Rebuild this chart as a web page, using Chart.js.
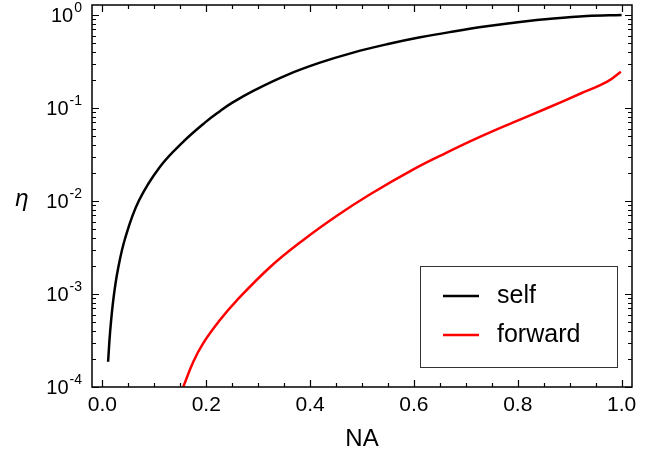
<!DOCTYPE html>
<html>
<head>
<meta charset="utf-8">
<script src="https://cdn.jsdelivr.net/npm/chart.js@4"></script>
<style>
  html, body { margin: 0; padding: 0; background: #fff; }
  #wrap { width: 665px; height: 456px; }
</style>
</head>
<body>
<div id="wrap"><canvas id="chart" width="665" height="456"></canvas></div>
<script>
// values
const selfNA  = [0.011, 0.015, 0.0216, 0.03, 0.044, 0.07, 0.111, 0.156, 0.198, 0.2264, 0.2495, 0.2906, 0.355, 0.419, 0.483, 0.548, 0.612, 0.676, 0.740, 0.804, 0.869, 0.933, 1.0];
const selfEta = [1.87e-4, 4.0e-4, 9.2e-4, 1.85e-3, 4.0e-3, 0.01, 0.0234, 0.0435, 0.070, 0.0923, 0.1135, 0.153, 0.226, 0.307, 0.394, 0.484, 0.575, 0.664, 0.755, 0.841, 0.916, 0.973, 1.0];

const fwdNA  = [0.1557, 0.1749, 0.194, 0.2264, 0.2586, 0.3227, 0.387, 0.451, 0.515, 0.599, 0.663, 0.727, 0.7915, 0.856, 0.920, 0.9715, 0.9985];
const fwdEta = [1e-4, 1.86e-4, 2.95e-4, 5.25e-4, 8.5e-4, 1.94e-3, 3.81e-3, 6.9e-3, 0.01175, 0.0219, 0.0331, 0.0488, 0.070, 0.0993, 0.1422, 0.1905, 0.245];

const xMajor = [0, 0.2, 0.4, 0.6, 0.8, 1.0];
const xLabels = ['0.0', '0.2', '0.4', '0.6', '0.8', '1.0'];
const xMinor = [0.05, 0.1, 0.15, 0.25, 0.3, 0.35, 0.45, 0.5, 0.55, 0.65, 0.7, 0.75, 0.85, 0.9, 0.95];
const yExps = [-4, -3, -2, -1, 0];

const FONT = "'Liberation Sans', Arial, sans-serif";

function toPoints(xs, ys) {
    return xs.map((x, i) => ({ x: x, y: ys[i] }));
}

const axesPlugin = {
    id: 'mmaAxes',
    afterDraw(chart) {
        const ctx = chart.ctx;
        const a = chart.chartArea;
        const sx = chart.scales.x, sy = chart.scales.y;
        ctx.save();
        ctx.strokeStyle = '#000';
        ctx.fillStyle = '#000';

        // frame
        ctx.lineWidth = 1.5;
        ctx.strokeRect(a.left, a.top, a.right - a.left, a.bottom - a.top);

        // x ticks, bottom and top, inward
        ctx.lineWidth = 1.2;
        function xt(v, len) {
            const px = Math.round(sx.getPixelForValue(v)) + 0.5;
            ctx.beginPath();
            ctx.moveTo(px, a.bottom); ctx.lineTo(px, a.bottom - len);
            ctx.moveTo(px, a.top); ctx.lineTo(px, a.top + len);
            ctx.stroke();
        }
        xMajor.forEach(v => xt(v, 7));
        xMinor.forEach(v => xt(v, 4));

        // y ticks, left and right, inward
        function yt(v, len) {
            const py = Math.round(sy.getPixelForValue(v)) + 0.5;
            ctx.beginPath();
            ctx.moveTo(a.left, py); ctx.lineTo(a.left + len, py);
            ctx.moveTo(a.right, py); ctx.lineTo(a.right - len, py);
            ctx.stroke();
        }
        yExps.forEach(e => {
            yt(Math.pow(10, e), 7);
            for (let k = 2; k <= 9; k++) {
                const v = k * Math.pow(10, e);
                if (v <= sy.max) yt(v, 4);
            }
        });

        // x tick labels
        ctx.font = '21px ' + FONT;
        ctx.textAlign = 'center';
        ctx.textBaseline = 'alphabetic';
        xMajor.forEach((v, i) => {
            ctx.fillText(xLabels[i], sx.getPixelForValue(v), 411);
        });

        // y tick labels 10^n
        const rightEdge = a.left - 10;
        yExps.forEach(e => {
            const py = sy.getPixelForValue(Math.pow(10, e));
            const ex = String(e);
            ctx.font = '14px ' + FONT;
            ctx.textAlign = 'right';
            const ew = ctx.measureText(ex).width;
            ctx.fillText(ex, rightEdge, py - 3);
            ctx.font = '20px ' + FONT;
            ctx.fillText('10', rightEdge - ew - 1, py + 7);
        });

        // axis titles
        ctx.font = '24px ' + FONT;
        ctx.textAlign = 'center';
        ctx.fillText('NA', (a.left + a.right) / 2, 446);
        ctx.font = 'italic 24px ' + FONT;
        ctx.fillText('\u03b7', 22, 206);

        // legend box
        ctx.fillStyle = '#fff';
        ctx.fillRect(420.5, 266.5, 197, 101);
        ctx.strokeStyle = '#333';
        ctx.lineWidth = 1;
        ctx.strokeRect(420.5, 266.5, 197, 101);
        const rows = [296, 335];
        chart.data.datasets.forEach((ds, i) => {
            ctx.strokeStyle = ds.borderColor;
            ctx.lineWidth = 2.5;
            ctx.beginPath();
            ctx.moveTo(443, rows[i]); ctx.lineTo(479, rows[i]);
            ctx.stroke();
            ctx.fillStyle = '#000';
            ctx.font = '25px ' + FONT;
            ctx.textAlign = 'left';
            ctx.fillText(ds.label, 497, rows[i] + 7);
        });
        ctx.restore();
    }
};

new Chart(document.getElementById('chart').getContext('2d'), {
    type: 'line',
    data: {
        datasets: [
            { label: 'self', data: toPoints(selfNA, selfEta), borderColor: '#000', borderWidth: 2.5, fill: false, tension: 0.4 },
            { label: 'forward', data: toPoints(fwdNA, fwdEta), borderColor: '#ff0000', borderWidth: 2.5, fill: false, tension: 0.4 }
        ]
    },
    options: {
        animation: false,
        responsive: false,
        devicePixelRatio: 1,
        layout: { padding: { left: 92, top: 5, right: 33, bottom: 69 } },
        plugins: { legend: { display: false }, tooltip: { enabled: false } },
        elements: { point: { radius: 0 } },
        scales: {
            x: { type: 'linear', min: -0.02, max: 1.02, display: false },
            y: { type: 'logarithmic', min: 1e-4, max: 1.28, display: false }
        }
    },
    plugins: [axesPlugin]
});
</script>
</body>
</html>
